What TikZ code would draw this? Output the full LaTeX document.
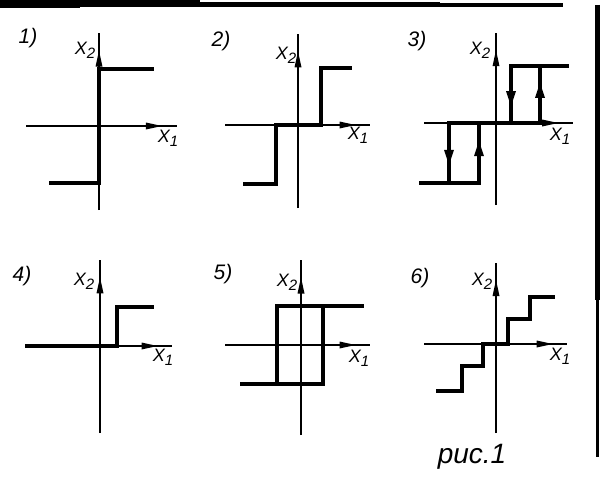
\documentclass[tikz,border=0pt]{standalone}
\usepackage{fontspec}
\setmainfont{Liberation Sans}
\usetikzlibrary{decorations.markings}

\begin{document}
\begin{tikzpicture}[x=1pt,y=-1pt]

\useasboundingbox (0,0) rectangle (601,476);

\tikzset{AxisStyle/.style = {line width=2pt, postaction={decorate},
           decoration={markings, mark=at position #1 with {\fill (-16pt,-3.5pt) -- (0pt,0pt) -- (-16pt,3.5pt) -- cycle;}}},
         AxisStyle/.default = .9,
         CurveStyle/.style = {line width=4.5pt, line cap=rect, line join=miter},
         FlowStyle/.style = {postaction={decorate},
           decoration={markings, mark=at position .58 with {\fill (-8pt,-5pt) -- (7pt,0pt) -- (-8pt,5pt) -- cycle;}}},
         TagStyle/.style = {font=\fontsize{21}{21}\selectfont\itshape, inner sep=0pt},
         AxisLabel/.style = {font=\fontsize{18}{18}\selectfont\itshape, inner sep=0pt}}

\newcommand\xsub[1]{X{\fontsize{15}{15}\selectfont\raisebox{-4pt}{#1}}}

\draw[line width=8pt] (0,4) -- (80,4);
\draw[line width=7pt] (80,3.5) -- (200,3.5);
\draw[line width=5pt] (200,4.5) -- (300,4.5);
\draw[line width=4.5pt] (300,4.75) -- (440,4.75);
\draw[line width=3.5pt] (440,5.25) -- (563,5.25);
\draw[line width=5pt] (597,5) -- (597,300);
\draw[line width=3pt] (597,300) -- (597,457);

\coordinate (1b) at (99,210);
\coordinate (1t) at (99,33);
\coordinate (1l) at (26,126);
\coordinate (1r) at (177,126);
\coordinate (2b) at (298,208);
\coordinate (2t) at (298,34);
\coordinate (2l) at (225,125);
\coordinate (2r) at (370,125);
\coordinate (3b) at (496,205);
\coordinate (3t) at (496,33);
\coordinate (3l) at (424,123);
\coordinate (3r) at (573,123);
\coordinate (4b) at (100,433);
\coordinate (4t) at (100,260);
\coordinate (4l) at (27,346);
\coordinate (4r) at (172,346);
\coordinate (5b) at (301,435);
\coordinate (5t) at (301,260);
\coordinate (5l) at (225,345);
\coordinate (5r) at (370,345);
\coordinate (6b) at (496,433);
\coordinate (6t) at (496,263);
\coordinate (6l) at (424,344);
\coordinate (6r) at (567,344);

\draw[AxisStyle] (1b) -- (1t);
\draw[AxisStyle] (1l) -- (1r);
\draw[AxisStyle] (2b) -- (2t);
\draw[AxisStyle] (2l) -- (2r);
\draw[AxisStyle] (3b) -- (3t);
\draw[AxisStyle] (3l) -- (3r);
\draw[AxisStyle] (4b) -- (4t);
\draw[AxisStyle] (4l) -- (4r);
\draw[AxisStyle] (5b) -- (5t);
\draw[AxisStyle] (5l) -- (5r);
\draw[AxisStyle] (6b) -- (6t);
\draw[AxisStyle] (6l) -- (6r);

\draw[CurveStyle] (51,183) -- (99,183) -- (99,69) -- (152,69);

\draw[CurveStyle] (245,184) -- (276,184) -- (276,125) -- (321,125) -- (321,68) -- (350,68);

\draw[CurveStyle] (421,183) -- (479,183);
\draw[CurveStyle] (449,123) -- (540,123);
\draw[CurveStyle] (511,66) -- (567,66);
\draw[CurveStyle, FlowStyle] (449,123) -- (449,183);
\draw[CurveStyle, FlowStyle] (479,183) -- (479,123);
\draw[CurveStyle, FlowStyle] (511,66) -- (511,123);
\draw[CurveStyle, FlowStyle] (540,123) -- (540,66);

\draw[CurveStyle] (27,346) -- (117,346) -- (117,307) -- (152,307);

\draw[CurveStyle] (242,384) -- (323,384) -- (323,306);
\draw[CurveStyle] (362,306) -- (277,306) -- (277,384);

\draw[CurveStyle] (438,391) -- (462,391) -- (462,366) -- (483,366) -- (483,344) -- (508,344) -- (508,319) -- (530,319) -- (530,297) -- (553,297);

\node[TagStyle] (T1) at (28,38) {1)};
\node[TagStyle] (T2) at (221,41) {2)};
\node[TagStyle] (T3) at (417,41) {3)};
\node[TagStyle] (T4) at (22,276) {4)};
\node[TagStyle] (T5) at (223,274) {5)};
\node[TagStyle] (T6) at (420,278) {6)};

\node[AxisLabel] (Y1) at (85,50) {\xsub{2}};
\node[AxisLabel] (Y2) at (286,55) {\xsub{2}};
\node[AxisLabel] (Y3) at (480,50) {\xsub{2}};
\node[AxisLabel] (Y4) at (84,281) {\xsub{2}};
\node[AxisLabel] (Y5) at (287,282) {\xsub{2}};
\node[AxisLabel] (Y6) at (482,281) {\xsub{2}};

\node[AxisLabel] (X1) at (168,138) {\xsub{1}};
\node[AxisLabel] (X2) at (358,135) {\xsub{1}};
\node[AxisLabel] (X3) at (560,136) {\xsub{1}};
\node[AxisLabel] (X4) at (163,357) {\xsub{1}};
\node[AxisLabel] (X5) at (359,358) {\xsub{1}};
\node[AxisLabel] (X6) at (560,356) {\xsub{1}};

\node[font=\fontsize{28}{28}\selectfont\itshape, inner sep=0pt] (C) at (472,457) {рис.1};

\end{tikzpicture}
\end{document}
